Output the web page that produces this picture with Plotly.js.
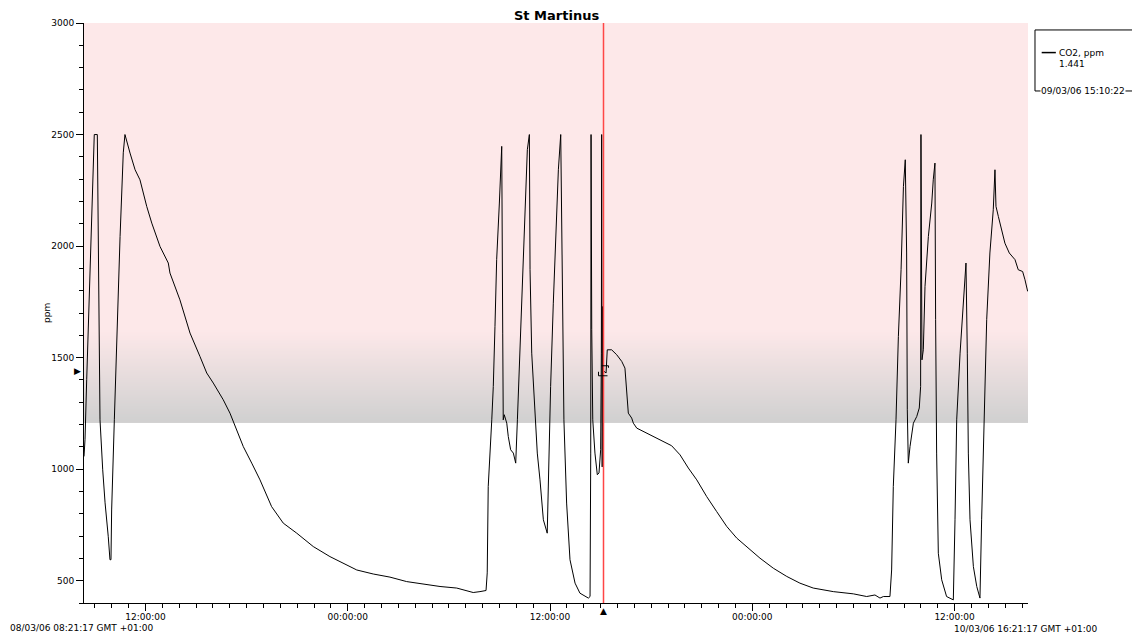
<!DOCTYPE html>
<html>
<head>
<meta charset="utf-8">
<script src="https://cdn.plot.ly/plotly-3.0.1.min.js"></script>
<style>html,body{margin:0;padding:0;background:#fff;}#chart{width:1132px;height:635px;}</style>
</head>
<body>
<div id="chart"></div>
<script>
// ---- data ----
const startTime = "2006-03-08 08:21:17";
const endTime = "2006-03-10 16:21:17";
const cursorTime = "2006-03-09 15:10:22";
const cursorLabel = "09/03/06 15:10:22";
const cursorValue = 1441;
const seriesName = "CO2, ppm";
const chartTitle = "St Martinus";

// hours since startTime
const hoursSinceStart = [
  0.00,0.06,0.16,0.26,0.46,0.55,0.61,0.79,0.85,0.95,1.11,1.25,1.44,1.54,1.60,1.64,1.80,1.94,2.14,2.33,2.43,
  2.73,3.03,3.32,3.72,4.02,4.51,5.00,5.10,5.69,6.29,6.88,7.28,7.67,8.26,8.66,8.96,9.45,9.95,10.44,11.13,11.82,
  12.62,13.60,14.59,15.58,16.18,17.16,18.15,19.14,20.13,21.12,22.11,23.09,23.49,23.85,
  23.92,23.98,24.19,24.28,24.38,24.48,24.64,24.78,24.84,24.87,24.93,25.08,25.17,25.31,25.47,25.61,
  25.71,25.86,26.02,26.16,26.30,26.42,26.46,26.56,26.75,26.89,27.05,27.25,27.48,
  27.54,27.68,27.84,28.00,28.14,28.28,28.37,28.47,28.63,28.83,29.13,29.42,29.92,30.02,
  30.06,30.08,30.12,30.18,30.31,30.45,30.55,30.65,30.69,30.71,30.74,30.77,30.81,
  30.97,31.04,31.30,31.60,31.90,32.09,32.19,32.29,32.49,32.59,32.79,33.18,33.77,34.37,34.86,35.36,35.85,
  36.35,36.94,37.53,38.13,38.72,39.31,40.10,40.89,41.69,42.47,43.26,44.45,45.64,46.43,46.92,47.22,47.42,47.81,
  47.91,48.01,48.17,48.31,48.47,48.61,48.72,48.80,48.84,48.90,49.00,49.20,49.40,49.55,49.63,49.65,49.67,
  49.71,49.79,49.89,50.09,50.29,50.38,50.48,50.52,50.58,50.68,50.88,51.17,51.57,
  51.67,51.77,51.97,52.16,52.32,52.40,52.46,52.56,52.76,52.96,53.15,
  53.25,53.39,53.55,53.74,53.94,54.04,54.10,54.24,54.44,54.63,54.89,55.23,55.42,55.68,55.82,55.98
];
const co2ppm = [
  1057,1132,1401,1670,2118,2418,2500,2500,2042,1221,997,849,697,594,594,817,1221,1594,2043,2418,2500,
  2417,2342,2297,2178,2103,1998,1924,1879,1759,1610,1505,1431,1386,1311,1251,1191,1101,1027,952,832,758,
  713,653,608,571,548,530,516,496,484,474,467,447,451,456,
  535,922,1221,1370,1640,1939,2193,2447,1610,1221,1244,1206,1146,1087,1072,1027,
  1221,1520,1894,2193,2432,2500,1894,1520,1251,1072,952,773,713,
  922,1370,1744,2118,2342,2500,1819,1221,848,594,489,444,422,429,
  1072,2500,1625,1221,1072,975,983,1087,1520,2500,1010,1729,1441,
  1431,1535,1535,1513,1483,1453,1370,1251,1229,1206,1184,1169,1150,1124,1105,1064,1005,
  952,877,810,743,691,653,601,556,519,489,467,451,441,429,436,422,429,429,
  548,922,1221,1594,1894,2267,2387,1969,1266,1027,1101,1206,1236,1274,1370,2500,2163,
  1490,1535,1819,2043,2193,2297,2372,1670,1072,623,504,429,414,
  773,1221,1520,1744,1924,1520,1072,773,563,474,422,
  773,1221,1670,1969,2163,2342,2178,2133,2073,2013,1969,1939,1894,1886,1849,1797
];

// shaded alarm band (ppm)
const bandTop = 3000, fadeStart = 1620, bandBottom = 1210;
const yRange = [400, 3000];

// ---- build ----
function toMs(s){ const [d,t] = s.split(" "); const [Y,M,D] = d.split("-").map(Number); const [h,m,sec] = t.split(":").map(Number); return Date.UTC(Y,M-1,D,h,m,sec); }
function msToStr(ms){ return new Date(ms).toISOString().replace("T"," ").replace("Z",""); }
const t0 = toMs(startTime);
const xs = hoursSinceStart.map(h => msToStr(t0 + h*3600000));

const pink = [253,232,233], gray = [208,208,208];
const shapes = [];
shapes.push({type:"rect", layer:"below", xref:"paper", x0:0, x1:1, yref:"y", y0:bandBottom, y1:bandTop, fillcolor:`rgb(${pink})`, line:{width:0}});
const N = 80;
for (let i=1;i<=N;i++){
  const f = i/N;
  const c = pink.map((p,k)=>Math.round(p + (gray[k]-p)*f));
  const ya = fadeStart - (fadeStart-bandBottom)*(i-1)/N;
  shapes.push({type:"rect", layer:"below", xref:"paper", x0:0, x1:1, yref:"y", y0:bandBottom, y1:ya, fillcolor:`rgb(${c})`, line:{width:0}});
}
// cursor line
shapes.push({type:"line", xref:"x", x0:cursorTime, x1:cursorTime, yref:"paper", y0:0, y1:1, line:{color:"#ff4646", width:1.5}});
// cursor box
shapes.push({type:"rect", xref:"x", xsizemode:"pixel", xanchor:cursorTime, x0:-5, x1:5, yref:"y", ysizemode:"pixel", yanchor:cursorValue, y0:-5, y1:5, line:{color:"#000", width:1, dash:"dash"}});
// legend frame (runs off the right edge of the page)
shapes.push({type:"rect", xref:"paper", yref:"paper", x0:1.0074, x1:1.25, y0:0.8828, y1:0.988, line:{color:"#000", width:1}, fillcolor:"rgba(0,0,0,0)"});
shapes.push({type:"line", xref:"paper", yref:"paper", x0:1.0145, x1:1.0295, y0:0.949, y1:0.949, line:{color:"#000", width:1.5}});

const font = {family:"DejaVu Sans, Verdana, sans-serif", size:9, color:"#000"};
const annotations = [
  {xref:"paper", yref:"paper", x:0.5, y:1, yanchor:"bottom", yshift:-2, showarrow:false, text:"<b>"+chartTitle+"</b>", font:{family:font.family, size:13, color:"#000"}},
  {xref:"paper", yref:"paper", x:-0.0466, y:0.5, textangle:-90, showarrow:false, text:"ppm", font},
  {xref:"paper", yref:"paper", x:-0.081, y:-0.043, xanchor:"left", yanchor:"middle", showarrow:false, text:"08/03/06 08:21:17 GMT +01:00", font},
  {xref:"paper", yref:"paper", x:0.920, y:-0.045, xanchor:"left", yanchor:"middle", showarrow:false, text:"10/03/06 16:21:17 GMT +01:00", font},
  {xref:"paper", yref:"paper", x:1.0305, y:0.949, xanchor:"left", yanchor:"middle", showarrow:false, text:seriesName, font},
  {xref:"paper", yref:"paper", x:1.0305, y:0.930, xanchor:"left", yanchor:"middle", showarrow:false, text:cursorValue.toLocaleString("de-DE"), font},
  {xref:"paper", yref:"paper", x:1.0125, y:0.8828, xanchor:"left", yanchor:"middle", showarrow:false, borderpad:0, bgcolor:"#fff", text:cursorLabel, font},
  {xref:"paper", yref:"y", x:0, y:cursorValue, xanchor:"right", xshift:-1, yanchor:"middle", showarrow:false, text:"▶", font:{family:font.family, size:9, color:"#000"}},
  {xref:"x", yref:"paper", x:cursorTime, y:0, xanchor:"center", yanchor:"top", yshift:-1, showarrow:false, text:"▲", font:{family:font.family, size:9, color:"#000"}}
];

const trace = {x:xs, y:co2ppm, type:"scatter", mode:"lines", line:{color:"#000", width:1}, hoverinfo:"skip"};

const layout = {
  width:1132, height:635,
  margin:{l:84, r:104, t:23, b:32},
  paper_bgcolor:"#fff", plot_bgcolor:"#fff",
  showlegend:false,
  font,
  xaxis:{type:"date", range:[startTime, endTime], tick0:"2006-03-08 00:00:00", dtick:12*3600000,
    tickformat:"%H:%M:%S", ticks:"outside", ticklen:7, tickcolor:"#000", tickwidth:1, ticklabelstandoff:-2,
    showline:true, linecolor:"#000", linewidth:1, showgrid:false, zeroline:false, tickfont:font,
    minor:{dtick:3600000, ticks:"outside", ticklen:4, tickcolor:"#000", showgrid:false}},
  yaxis:{range:yRange, tick0:0, dtick:500, ticks:"outside", ticklen:7, tickcolor:"#000", tickwidth:1,
    showline:true, linecolor:"#000", linewidth:1, showgrid:false, zeroline:false, tickfont:font,
    minor:{dtick:100, ticks:"outside", ticklen:4, tickcolor:"#000", showgrid:false}},
  shapes, annotations
};
Plotly.newPlot("chart", [trace], layout, {staticPlot:true, displayModeBar:false});
</script>
</body>
</html>
